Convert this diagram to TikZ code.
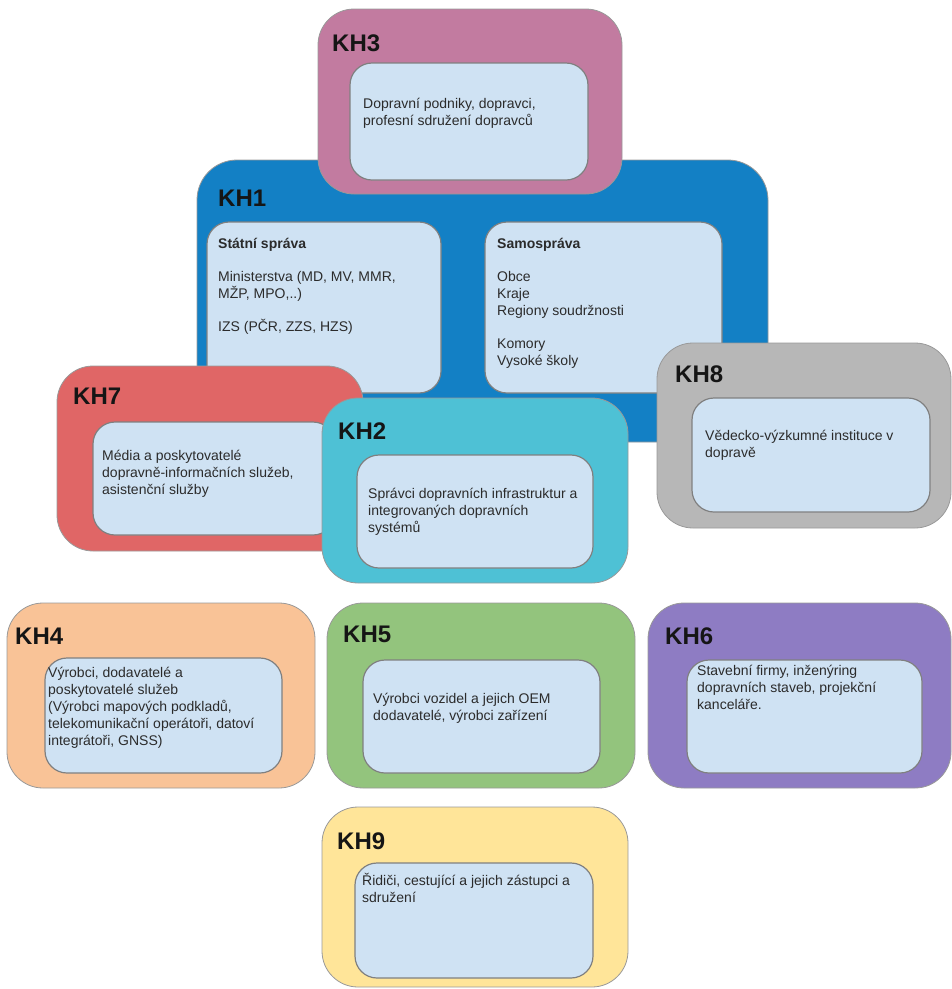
\documentclass[tikz,border=0pt]{standalone}
\usepackage{fontspec}
\setmainfont{Liberation Sans}
\usetikzlibrary{fit}

% group colours
\definecolor{khone}{HTML}{1380C5}
\definecolor{khtwo}{HTML}{4EC1D5}
\definecolor{khthree}{HTML}{C27BA0}
\definecolor{khfour}{HTML}{F9C397}
\definecolor{khfive}{HTML}{93C47D}
\definecolor{khsix}{HTML}{8E7CC3}
\definecolor{khseven}{HTML}{E06666}
\definecolor{kheight}{HTML}{B7B7B7}
\definecolor{khnine}{HTML}{FFE599}
\definecolor{cardblue}{HTML}{CFE2F3}
\definecolor{titleink}{HTML}{151515}
\definecolor{bodyink}{HTML}{2B2B2B}

\tikzset{
  panel/.style={rounded corners=36pt, draw=black!40, line width=0.8pt, inner sep=0pt},
  card/.style={rounded corners=22pt, fill=cardblue, draw=black!50, line width=1.2pt, inner sep=0pt},
  khtitle/.style={anchor=base west, inner sep=0pt, text=titleink,
    font=\fontsize{24}{28}\selectfont\bfseries},
  % body text: the node is placed by its top edge, 13pt above the first baseline
  body/.style={anchor=north west, inner sep=0pt, align=left, text=bodyink,
    font=\fontsize{14}{17}\selectfont, execute at begin node={\rule{0pt}{13pt}}},
}

\begin{document}
\begin{tikzpicture}[x=1pt,y=-1pt]
\useasboundingbox (0,0) rectangle (952,989);

% KH1 - public administration
\node[panel, fill=khone, rounded corners=40pt, fit={(197,160) (768,442)}] (kh1) {};
\node[card, fit={(207,222) (441,393)}] (kh1a) {};
\node[card, fit={(485,222) (722,393)}] (kh1b) {};
\node[khtitle] (kh1t) at (218,206) {KH1};
\node[body] (kh1at) at (218,238) {\textbf{Státní správa}\\[16pt]
  Ministerstva (MD, MV, MMR,\\MŽP, MPO,..)\\[16pt]IZS (PČR, ZZS, HZS)};
\node[body] (kh1bt) at (497,238) {\textbf{Samospráva}\\[16pt]
  Obce\\Kraje\\Regiony soudržnosti\\[16pt]Komory\\Vysoké školy};

% KH3 - transport operators
\node[panel, fill=khthree, fit={(318,9) (622,194)}] (kh3) {};
\node[card, fit={(350,63) (588,180)}] (kh3c) {};
\node[khtitle] (kh3t) at (332,51) {KH3};
\node[body] (kh3b) at (363,98) {Dopravní podniky, dopravci,\\profesní sdružení dopravců};

% KH7 - media
\node[panel, fill=khseven, fit={(57,366) (363,551)}] (kh7) {};
\node[card, fit={(93,422) (335,535)}] (kh7c) {};
\node[khtitle] (kh7t) at (73,404) {KH7};
\node[body] (kh7b) at (102,450) {Média a poskytovatelé\\dopravně-informačních služeb,\\asistenční služby};

% KH2 - infrastructure managers
\node[panel, fill=khtwo, fit={(322,398) (628,583)}] (kh2) {};
\node[card, fit={(357,455) (593,568)}] (kh2c) {};
\node[khtitle] (kh2t) at (338,439) {KH2};
\node[body] (kh2b) at (368,488) {Správci dopravních infrastruktur a\\integrovaných dopravních\\systémů};

% KH8 - research
\node[panel, fill=kheight, fit={(657,343) (951,528)}] (kh8) {};
\node[card, fit={(692,398) (930,512)}] (kh8c) {};
\node[khtitle] (kh8t) at (675,382) {KH8};
\node[body] (kh8b) at (705,430) {Vědecko-výzkumné instituce v\\dopravě};

% KH4 - suppliers
\node[panel, fill=khfour, fit={(7,603) (315,788)}] (kh4) {};
\node[card, fit={(45,658) (282,773)}] (kh4c) {};
\node[khtitle] (kh4t) at (15,644) {KH4};
\node[body] (kh4b) at (48,667) {Výrobci, dodavatelé a\\poskytovatelé služeb\\(Výrobci mapových podkladů,\\telekomunikační operátoři, datoví\\integrátoři, GNSS)};

% KH5 - vehicle makers
\node[panel, fill=khfive, fit={(327,603) (635,788)}] (kh5) {};
\node[card, fit={(363,660) (600,773)}] (kh5c) {};
\node[khtitle] (kh5t) at (343,642) {KH5};
\node[body] (kh5b) at (373,693) {Výrobci vozidel a jejich OEM\\dodavatelé, výrobci zařízení};

% KH6 - construction
\node[panel, fill=khsix, fit={(648,603) (951,788)}] (kh6) {};
\node[card, fit={(687,660) (922,773)}] (kh6c) {};
\node[khtitle] (kh6t) at (665,644) {KH6};
\node[body] (kh6b) at (697,665) {Stavební firmy, inženýring\\dopravních staveb, projekční\\kanceláře.};

% KH9 - drivers and passengers
\node[panel, fill=khnine, fit={(322,807) (628,987)}] (kh9) {};
\node[card, fit={(355,863) (593,978)}] (kh9c) {};
\node[khtitle] (kh9t) at (337,849) {KH9};
\node[body] (kh9b) at (362,873) {Řidiči, cestující a jejich zástupci a\\sdružení};
\end{tikzpicture}
\end{document}
